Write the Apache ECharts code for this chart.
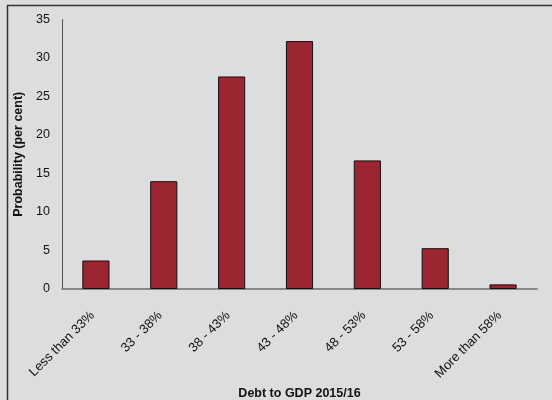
<!DOCTYPE html>
<html>
<head>
<meta charset="utf-8">
<script src="https://cdn.jsdelivr.net/npm/echarts@6/dist/echarts.min.js"></script>
<style>
  html, body { margin: 0; padding: 0; background: #dcdddf; }
  #chart { width: 552px; height: 400px; }
</style>
</head>
<body>
<div id="chart"></div>
<script>
// Debt-to-GDP ranges for 2015/16 and the probability of each (per cent)
const categories = ['Less than 33%', '33 - 38%', '38 - 43%', '43 - 48%', '48 - 53%', '53 - 58%', 'More than 58%'];
const probability = [3.7, 14.0, 27.6, 32.2, 16.7, 5.3, 0.6];
const yTicks = { min: 0, max: 35, step: 5 };

const FONT = "'Liberation Sans Narrow', 'Arial Narrow', 'Liberation Sans', Arial, sans-serif";

const chart = echarts.init(document.getElementById('chart'), null, { renderer: 'canvas' });

chart.setOption({
  backgroundColor: '#dcdddf',
  animation: false,
  grid: { left: 62, right: 15, top: 19.5, bottom: 111, containLabel: false, outerBoundsMode: 'none' },
  xAxis: {
    type: 'category',
    data: categories,
    name: 'Debt to GDP 2015/16',
    nameLocation: 'middle',
    nameGap: 93,
    nameTextStyle: { fontFamily: FONT, fontSize: 12.5, fontWeight: 'bold', color: '#111' },
    axisLine: { show: true, lineStyle: { color: '#6b6b6b', width: 1.5 } },
    axisTick: { show: false },
    axisLabel: {
      rotate: 45,
      margin: 21,
      padding: [0, 5, 0, 0],
      fontFamily: FONT,
      fontSize: 13,
      color: '#111',
      interval: 0
    }
  },
  yAxis: {
    type: 'value',
    min: yTicks.min,
    max: yTicks.max,
    interval: yTicks.step,
    name: 'Probability (per cent)',
    nameLocation: 'middle',
    nameGap: 34,
    nameTextStyle: { fontFamily: FONT, fontSize: 12.5, fontWeight: 'bold', color: '#111' },
    axisLine: { show: true, lineStyle: { color: '#555', width: 1 } },
    axisTick: { show: false },
    splitLine: { show: false },
    axisLabel: { fontFamily: FONT, fontSize: 12.5, color: '#111', margin: 12 }
  },
  series: [{
    type: 'bar',
    data: probability,
    barWidth: '40%',
    itemStyle: { color: '#9b2530', borderColor: '#111', borderWidth: 1 }
  }],
  graphic: [
    // outer frame: left and top edges
    { type: 'line', shape: { x1: 7, y1: 5.5, x2: 552, y2: 5.5 }, style: { stroke: '#333', lineWidth: 1.5 }, silent: true },
    { type: 'line', shape: { x1: 7.5, y1: 5, x2: 7.5, y2: 400 }, style: { stroke: '#333', lineWidth: 1.5 }, silent: true }
  ]
});
</script>
</body>
</html>
